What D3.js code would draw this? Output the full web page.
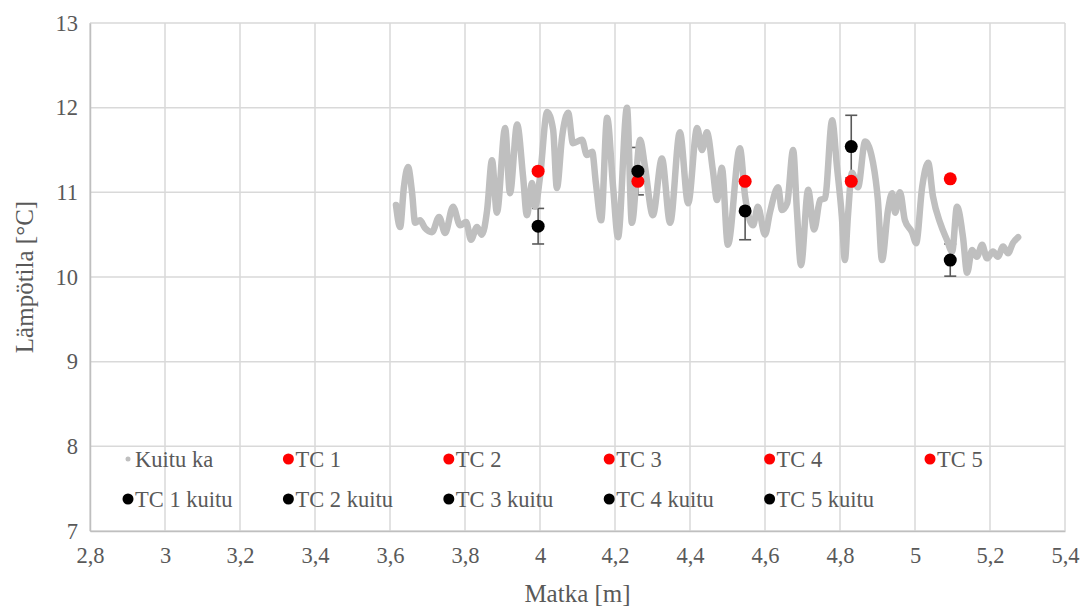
<!DOCTYPE html>
<html>
<head>
<meta charset="utf-8">
<script src="https://cdn.jsdelivr.net/npm/d3@7"></script>
<style>
	body { margin: 0; background: #fff; }
	svg { display: block; font-family: "Liberation Serif", "Times New Roman", serif; }
</style>
</head>
<body>
<svg id="chart" width="1083" height="606"></svg>
<script>
// ****** Data
var matka = [3.616, 3.627, 3.637, 3.648, 3.659, 3.667, 3.680, 3.693, 3.712, 3.731,
	3.747, 3.768, 3.787, 3.803, 3.816, 3.832, 3.845, 3.859, 3.872, 3.885,
	3.907, 3.920, 3.939, 3.955, 3.965, 3.979, 3.987, 4.000, 4.019, 4.035,
	4.045, 4.059, 4.075, 4.088, 4.112, 4.125, 4.139, 4.149, 4.163, 4.179,
	4.195, 4.208, 4.232, 4.245, 4.267, 4.280, 4.301, 4.325, 4.347, 4.373,
	4.395, 4.419, 4.432, 4.445, 4.461, 4.472, 4.485, 4.501, 4.533, 4.547,
	4.568, 4.581, 4.600, 4.613, 4.635, 4.645, 4.659, 4.675, 4.685, 4.696,
	4.715, 4.731, 4.747, 4.760, 4.779, 4.792, 4.805, 4.813, 4.821, 4.832,
	4.848, 4.867, 4.888, 4.901, 4.912, 4.928, 4.939, 4.947, 4.960, 4.973,
	4.992, 5.003, 5.019, 5.035, 5.048, 5.067, 5.085, 5.099, 5.112, 5.128,
	5.139, 5.152, 5.165, 5.179, 5.192, 5.208, 5.221, 5.235, 5.248, 5.261,
	5.275];
var kuituKa = [10.85, 10.59, 11.06, 11.30, 10.99, 10.64, 10.67, 10.58, 10.53, 10.71,
	10.52, 10.83, 10.61, 10.65, 10.44, 10.59, 10.50, 10.79, 11.38, 10.76,
	11.76, 10.99, 11.80, 11.18, 10.73, 11.11, 10.83, 11.18, 11.95, 11.74,
	11.05, 11.66, 11.94, 11.58, 11.62, 11.44, 11.48, 11.11, 10.67, 11.88,
	11.06, 10.47, 12.00, 10.64, 11.62, 11.30, 10.73, 11.40, 10.64, 11.71,
	10.87, 11.76, 11.50, 11.71, 11.26, 10.91, 11.29, 10.38, 11.52, 10.95,
	10.61, 10.83, 10.50, 10.76, 11.06, 10.79, 10.87, 11.50, 10.79, 10.14,
	11.03, 10.56, 10.91, 10.93, 11.85, 11.30, 10.71, 10.20, 10.71, 11.23,
	11.06, 11.60, 11.35, 10.91, 10.20, 10.79, 10.99, 10.76, 11.00, 10.67,
	10.53, 10.40, 11.06, 11.35, 10.95, 10.64, 10.44, 10.30, 10.83, 10.47,
	10.05, 10.32, 10.24, 10.38, 10.22, 10.30, 10.24, 10.36, 10.28, 10.40,
	10.47];

var tcNames = ['TC 1', 'TC 2', 'TC 3', 'TC 4', 'TC 5'];
var tcKuituNames = ['TC 1 kuitu', 'TC 2 kuitu', 'TC 3 kuitu', 'TC 4 kuitu', 'TC 5 kuitu'];
var tcX = [3.995, 4.261, 4.547, 4.830, 5.094];
var tcTemp = [11.25, 11.13, 11.13, 11.13, 11.16];
var kuituTemp = [10.60, 11.25, 10.78, 11.54, 10.20];
var kuituErr = [0.21, 0.28, 0.34, 0.37, 0.19];

var xTicks = [2.8, 3.0, 3.2, 3.4, 3.6, 3.8, 4.0, 4.2, 4.4, 4.6, 4.8, 5.0, 5.2, 5.4];
var yTicks = [7, 8, 9, 10, 11, 12, 13];

// ****** Layout
var plot = { left: 90, right: 1065, top: 23, bottom: 531 };
var textColor = '#595959';
var gridColor = '#d9d9d9';

var svg = d3.select('#chart');
var x = d3.scaleLinear().domain([2.8, 5.4]).range([plot.left, plot.right]);
var y = d3.scaleLinear().domain([7, 13]).range([plot.bottom, plot.top]);
var fmt = function(d) { return d3.format('~g')(+d.toFixed(1)).replace('.', ','); };

// grid
svg.append('g').selectAll('line').data(xTicks).enter().append('line')
	.attr('x1', function(d) { return x(d); }).attr('x2', function(d) { return x(d); })
	.attr('y1', plot.top).attr('y2', plot.bottom)
	.attr('stroke', gridColor).attr('stroke-width', 1.5);
svg.append('g').selectAll('line').data(yTicks).enter().append('line')
	.attr('x1', plot.left).attr('x2', plot.right)
	.attr('y1', function(d) { return y(d); }).attr('y2', function(d) { return y(d); })
	.attr('stroke', gridColor).attr('stroke-width', 1.5);

// axes (labels only, lines come from the grid)
var xAxis = svg.append('g').attr('transform', 'translate(0,' + plot.bottom + ')')
	.call(d3.axisBottom(x).tickValues(xTicks).tickFormat(fmt).tickSize(0).tickPadding(16));
var yAxis = svg.append('g').attr('transform', 'translate(' + plot.left + ',0)')
	.call(d3.axisLeft(y).tickValues(yTicks).tickFormat(d3.format('d')).tickSize(0).tickPadding(12));
[xAxis, yAxis].forEach(function(a) {
	a.select('.domain').attr('stroke', '#bfbfbf').attr('stroke-width', 1.5);
	a.selectAll('text').attr('fill', textColor).style('font-size', '22.5px')
		.style('font-family', '"Liberation Serif", serif');
});

// axis titles
svg.append('text').attr('x', (plot.left + plot.right) / 2).attr('y', 602)
	.attr('text-anchor', 'middle').attr('fill', textColor).style('font-size', '25px')
	.text('Matka [m]');
svg.append('text').attr('transform', 'translate(33,' + ((plot.top + plot.bottom) / 2) + ') rotate(-90)')
	.attr('text-anchor', 'middle').attr('fill', textColor).style('font-size', '25px')
	.text('Lämpötila [°C]');

// error bars first (Excel draws them under the markers)
var errG = svg.append('g').attr('stroke', '#595959').attr('stroke-width', 1.6);
tcX.forEach(function(d, i) {
	var lo = y(kuituTemp[i] - kuituErr[i]), hi = y(kuituTemp[i] + kuituErr[i]);
	errG.append('line').attr('x1', x(d)).attr('x2', x(d)).attr('y1', lo).attr('y2', hi);
	errG.append('line').attr('x1', x(d) - 6).attr('x2', x(d) + 6).attr('y1', lo).attr('y2', lo);
	errG.append('line').attr('x1', x(d) - 6).attr('x2', x(d) + 6).attr('y1', hi).attr('y2', hi);
});

// Kuitu ka - dense dotted trace, drawn as a thick rounded line
var kuituPts = matka.map(function(d, i) { return [d, kuituKa[i]]; });
svg.append('path').datum(kuituPts)
	.attr('d', d3.line().curve(d3.curveMonotoneX)
		.x(function(d) { return x(d[0]); }).y(function(d) { return y(d[1]); }))
	.attr('fill', 'none').attr('stroke', '#bfbfbf').attr('stroke-width', 6.5)
	.attr('stroke-linejoin', 'round').attr('stroke-linecap', 'round');

// TC points
svg.append('g').selectAll('circle').data(tcX).enter().append('circle')
	.attr('cx', function(d) { return x(d); })
	.attr('cy', function(d, i) { return y(tcTemp[i]); })
	.attr('r', 6.5).attr('fill', '#ff0000');
svg.append('g').selectAll('circle').data(tcX).enter().append('circle')
	.attr('cx', function(d) { return x(d); })
	.attr('cy', function(d, i) { return y(kuituTemp[i]); })
	.attr('r', 6.5).attr('fill', '#000000');

// ****** Legend (inside plot, two rows)
var legendItems = [{ name: 'Kuitu ka', color: '#bfbfbf', r: 2.5 }]
	.concat(tcNames.map(function(n) { return { name: n, color: '#ff0000', r: 5.5 }; }))
	.concat(tcKuituNames.map(function(n) { return { name: n, color: '#000000', r: 5.5 }; }));
var leg = svg.append('g');
legendItems.forEach(function(it, i) {
	var col = i % 6, row = Math.floor(i / 6);
	var lx = 128 + col * 160.4, ly = 459 + row * 40;
	leg.append('circle').attr('cx', lx).attr('cy', ly).attr('r', it.r).attr('fill', it.color);
	leg.append('text').attr('x', lx + 7).attr('y', ly).attr('dy', '0.35em')
		.attr('fill', textColor).style('font-size', '22.5px').text(it.name);
});
</script>
</body>
</html>
